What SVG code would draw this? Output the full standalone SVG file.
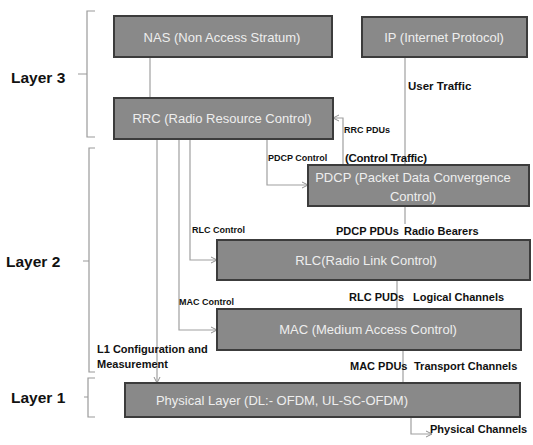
<svg xmlns="http://www.w3.org/2000/svg" width="533" height="445" viewBox="0 0 533 445">
<defs>
<marker id="arr" markerWidth="8" markerHeight="8" refX="7" refY="4" orient="auto" markerUnits="userSpaceOnUse">
<path d="M1,1 L7,4 L1,7" fill="none" stroke="#909090" stroke-width="1"/>
</marker>
</defs>
<style>
.box{fill:#898989;stroke:#3c3c3c;stroke-width:2}
.bt{font-family:"Liberation Sans",Arial,sans-serif;font-size:13px;fill:#eeeeee;text-anchor:middle}
.ln{fill:none;stroke:#a0a0a0;stroke-width:1.2}
.br{fill:none;stroke:#9a9a9a;stroke-width:1.2}
.lay{font-family:"Liberation Sans",Arial,sans-serif;font-size:15.5px;font-weight:bold;fill:#111}
.lb{font-family:"Liberation Sans",Arial,sans-serif;font-size:11px;font-weight:bold;fill:#111}
.lbs{font-family:"Liberation Sans",Arial,sans-serif;font-size:9px;font-weight:bold;fill:#111}
.lbm{font-family:"Liberation Sans",Arial,sans-serif;font-size:11.5px;font-weight:bold;fill:#111}
</style>
<rect width="533" height="445" fill="#ffffff"/>
<g id="braces">
<path class="br" d="M95,11 H87 V137 H95 M87,74 H78"/>
<path class="br" d="M95,148 H89 V372 H95 M89,261 H83"/>
<path class="br" d="M95,378 H88 V417 H95 M88,397 H84"/>
<text class="lay" x="11" y="83">Layer 3</text>
<text class="lay" x="6" y="267">Layer 2</text>
<text class="lay" x="11" y="403">Layer 1</text>
</g>
<g id="connectors">
<path class="ln" d="M150,57 V98"/>
<path class="ln" d="M405,57 V165"/>
<path class="ln" d="M343,165 V118 H333" marker-end="url(#arr)"/>
<path class="ln" d="M267,139 V185 H308" marker-end="url(#arr)"/>
<path class="ln" d="M190,139 V260 H217" marker-end="url(#arr)"/>
<path class="ln" d="M179,139 V330 H217" marker-end="url(#arr)"/>
<path class="ln" d="M157,139 V383" marker-end="url(#arr)"/>
<path class="ln" d="M405,206 V224"/>
<path class="ln" d="M397,280 V309"/>
<path class="ln" d="M403,350 V383"/>
<path class="ln" d="M411,417 V434 H432" marker-end="url(#arr)"/>
<text class="lbm" x="408" y="90">User Traffic</text>
<text class="lbs" x="344" y="133">RRC PDUs</text>
<text class="lbs" x="268" y="161">PDCP Control</text>
<text class="lbm" x="345" y="162" textLength="82">(Control Traffic)</text>
<text class="lbs" x="192" y="233">RLC Control</text>
<text class="lb" x="336" y="235">PDCP PDUs</text>
<text class="lb" x="404" y="235">Radio Bearers</text>
<text class="lb" x="349" y="301">RLC PUDs</text>
<text class="lb" x="413" y="301">Logical Channels</text>
<text class="lbs" x="179" y="305">MAC Control</text>
<text class="lb" x="350" y="370">MAC PDUs</text>
<text class="lb" x="414" y="370">Transport Channels</text>
<text class="lb" x="97" y="353">L1 Configuration and</text>
<text class="lb" x="97" y="368">Measurement</text>
<text class="lb" x="430" y="433">Physical Channels</text>
</g>
<g id="nas"><rect class="box" x="114" y="16" width="218" height="41"/><text class="bt" x="222" y="42">NAS (Non Access Stratum)</text></g>
<g id="ip"><rect class="box" x="362" y="17" width="165" height="40"/><text class="bt" x="444" y="42">IP (Internet  Protocol)</text></g>
<g id="rrc"><rect class="box" x="114" y="98" width="219" height="41"/><text class="bt" x="222" y="123">RRC (Radio  Resource  Control)</text></g>
<g id="pdcp"><rect class="box" x="308" y="165" width="221" height="41"/><text class="bt" x="413" y="182">PDCP (Packet Data Convergence</text><text class="bt" x="413" y="201">Control)</text></g>
<g id="rlc"><rect class="box" x="217" y="240" width="313" height="40"/><text class="bt" x="366" y="265">RLC(Radio Link Control)</text></g>
<g id="mac"><rect class="box" x="217" y="309" width="304" height="41"/><text class="bt" x="368" y="334">MAC (Medium  Access  Control)</text></g>
<g id="phy"><rect class="box" x="125" y="383" width="395" height="34"/><text class="bt" x="282" y="405">Physical Layer (DL:- OFDM, UL-SC-OFDM)</text></g>
</svg>
